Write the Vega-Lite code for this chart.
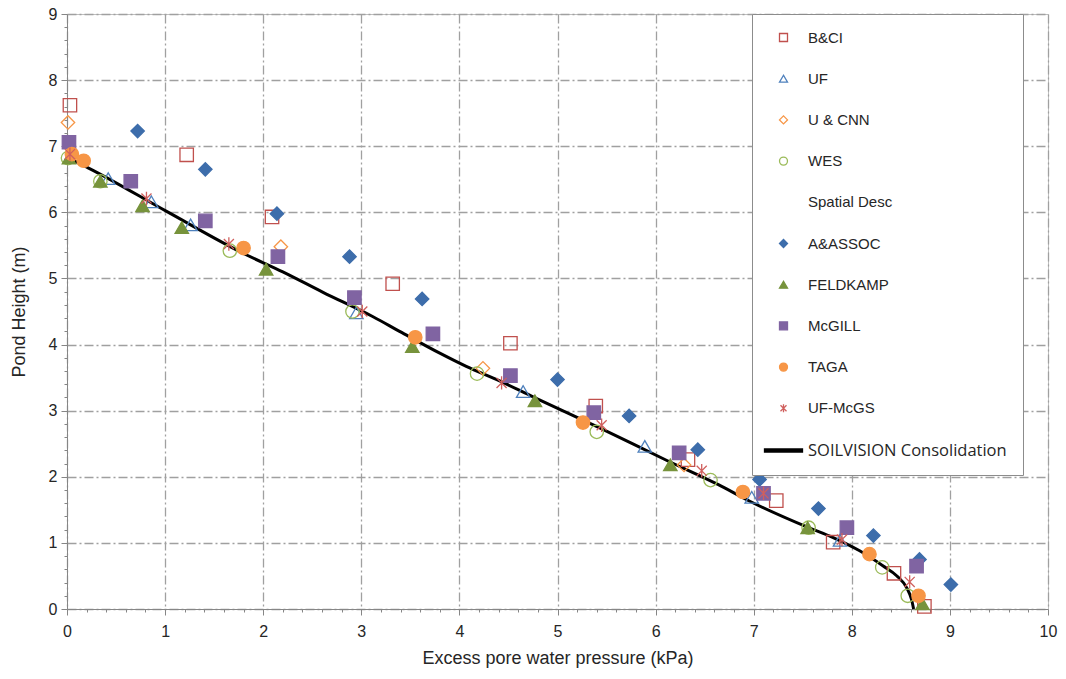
{
  "$schema": "https://vega.github.io/schema/vega-lite/v6.json",
  "width": 981,
  "height": 595,
  "autosize": "none",
  "padding": {"left": 67, "top": 14, "right": 18, "bottom": 70},
  "background": "white",
  "config": {
    "view": {"stroke": "#BFBFBF", "strokeWidth": 1},
    "font": "Liberation Sans",
    "legend": {
      "orient": "none", "legendX": 685, "legendY": 0,
      "padding": 16, "rowPadding": 25.2, "labelFontSize": 15,
      "labelColor": "#262626", "labelOffset": 17, "labelLimit": 400, "symbolOffset": 8,
      "strokeColor": "#8C8C8C", "fillColor": "white", "symbolStrokeWidth": 1.3, "symbolSize": 64
    }
  },
  "datasets": {
    "curve": [
      {"x": 0, "y": 6.83}, {"x": 0.22, "y": 6.67}, {"x": 1.02, "y": 6.01}, {"x": 1.81, "y": 5.37},
      {"x": 2.2, "y": 5.1}, {"x": 2.61, "y": 4.79}, {"x": 3.12, "y": 4.42}, {"x": 3.39, "y": 4.2},
      {"x": 3.8, "y": 3.87}, {"x": 4.07, "y": 3.67}, {"x": 4.41, "y": 3.45}, {"x": 4.75, "y": 3.21},
      {"x": 5.43, "y": 2.74}, {"x": 6.11, "y": 2.25}, {"x": 6.64, "y": 1.88}, {"x": 6.96, "y": 1.63},
      {"x": 7.56, "y": 1.23}, {"x": 7.81, "y": 1.08}, {"x": 8.08, "y": 0.88}, {"x": 8.32, "y": 0.65},
      {"x": 8.46, "y": 0.5}, {"x": 8.56, "y": 0.32}, {"x": 8.61, "y": 0.14}, {"x": 8.63, "y": 0}
    ],
    "obs": [
      {"series": "B&CI", "x": 0.03, "y": 7.62}, {"series": "B&CI", "x": 1.22, "y": 6.87}, {"series": "B&CI", "x": 2.09, "y": 5.93},
      {"series": "B&CI", "x": 3.32, "y": 4.92}, {"series": "B&CI", "x": 4.52, "y": 4.02}, {"series": "B&CI", "x": 5.39, "y": 3.07},
      {"series": "B&CI", "x": 6.33, "y": 2.26}, {"series": "B&CI", "x": 7.23, "y": 1.64}, {"series": "B&CI", "x": 7.81, "y": 1.01},
      {"series": "B&CI", "x": 8.43, "y": 0.54}, {"series": "B&CI", "x": 8.74, "y": 0.04},
      {"series": "UF", "x": 0.42, "y": 6.51}, {"series": "UF", "x": 0.86, "y": 6.16}, {"series": "UF", "x": 1.26, "y": 5.81},
      {"series": "UF", "x": 2.95, "y": 4.48}, {"series": "UF", "x": 4.65, "y": 3.29}, {"series": "UF", "x": 5.89, "y": 2.46},
      {"series": "UF", "x": 6.98, "y": 1.69}, {"series": "UF", "x": 7.88, "y": 1.04},
      {"series": "U & CNN", "x": 0.01, "y": 7.36}, {"series": "U & CNN", "x": 2.18, "y": 5.48}, {"series": "U & CNN", "x": 4.24, "y": 3.64},
      {"series": "U & CNN", "x": 6.29, "y": 2.18},
      {"series": "WES", "x": 0.01, "y": 6.82}, {"series": "WES", "x": 0.34, "y": 6.47}, {"series": "WES", "x": 1.66, "y": 5.42},
      {"series": "WES", "x": 2.91, "y": 4.5}, {"series": "WES", "x": 4.18, "y": 3.56}, {"series": "WES", "x": 5.4, "y": 2.68},
      {"series": "WES", "x": 6.56, "y": 1.95}, {"series": "WES", "x": 7.56, "y": 1.23}, {"series": "WES", "x": 8.31, "y": 0.63},
      {"series": "WES", "x": 8.57, "y": 0.2},
      {"series": "A&ASSOC", "x": 0.72, "y": 7.23}, {"series": "A&ASSOC", "x": 1.41, "y": 6.65}, {"series": "A&ASSOC", "x": 2.14, "y": 5.98},
      {"series": "A&ASSOC", "x": 2.88, "y": 5.33}, {"series": "A&ASSOC", "x": 3.62, "y": 4.69}, {"series": "A&ASSOC", "x": 5.0, "y": 3.47},
      {"series": "A&ASSOC", "x": 5.73, "y": 2.92}, {"series": "A&ASSOC", "x": 6.43, "y": 2.41}, {"series": "A&ASSOC", "x": 7.06, "y": 1.96},
      {"series": "A&ASSOC", "x": 7.66, "y": 1.52}, {"series": "A&ASSOC", "x": 8.22, "y": 1.11}, {"series": "A&ASSOC", "x": 8.69, "y": 0.75},
      {"series": "A&ASSOC", "x": 9.01, "y": 0.37},
      {"series": "FELDKAMP", "x": 0.02, "y": 6.82}, {"series": "FELDKAMP", "x": 0.34, "y": 6.47}, {"series": "FELDKAMP", "x": 0.77, "y": 6.1},
      {"series": "FELDKAMP", "x": 1.17, "y": 5.77}, {"series": "FELDKAMP", "x": 2.03, "y": 5.14}, {"series": "FELDKAMP", "x": 3.52, "y": 3.97},
      {"series": "FELDKAMP", "x": 4.77, "y": 3.15}, {"series": "FELDKAMP", "x": 6.15, "y": 2.18}, {"series": "FELDKAMP", "x": 7.55, "y": 1.23},
      {"series": "FELDKAMP", "x": 8.72, "y": 0.08},
      {"series": "McGILL", "x": 0.02, "y": 7.06}, {"series": "McGILL", "x": 0.65, "y": 6.47}, {"series": "McGILL", "x": 1.41, "y": 5.87},
      {"series": "McGILL", "x": 2.15, "y": 5.33}, {"series": "McGILL", "x": 2.93, "y": 4.71}, {"series": "McGILL", "x": 3.73, "y": 4.16},
      {"series": "McGILL", "x": 4.52, "y": 3.53}, {"series": "McGILL", "x": 5.37, "y": 2.97}, {"series": "McGILL", "x": 6.24, "y": 2.36},
      {"series": "McGILL", "x": 7.1, "y": 1.75}, {"series": "McGILL", "x": 7.95, "y": 1.23}, {"series": "McGILL", "x": 8.66, "y": 0.65},
      {"series": "TAGA", "x": 0.05, "y": 6.88}, {"series": "TAGA", "x": 0.17, "y": 6.78}, {"series": "TAGA", "x": 1.8, "y": 5.46},
      {"series": "TAGA", "x": 3.55, "y": 4.11}, {"series": "TAGA", "x": 5.26, "y": 2.82}, {"series": "TAGA", "x": 6.89, "y": 1.77},
      {"series": "TAGA", "x": 8.18, "y": 0.83}, {"series": "TAGA", "x": 8.68, "y": 0.2},
      {"series": "UF-McGS", "x": 0.03, "y": 6.88}, {"series": "UF-McGS", "x": 0.81, "y": 6.21}, {"series": "UF-McGS", "x": 1.65, "y": 5.52},
      {"series": "UF-McGS", "x": 3.01, "y": 4.5}, {"series": "UF-McGS", "x": 4.43, "y": 3.42}, {"series": "UF-McGS", "x": 5.45, "y": 2.78},
      {"series": "UF-McGS", "x": 6.47, "y": 2.09}, {"series": "UF-McGS", "x": 7.1, "y": 1.75}, {"series": "UF-McGS", "x": 7.9, "y": 1.05},
      {"series": "UF-McGS", "x": 8.59, "y": 0.41}
    ]
  },
  "layer": [
    {
      "data": {"name": "curve"},
      "mark": {"type": "line", "color": "black", "strokeWidth": 3, "interpolate": "monotone"},
      "encoding": {
        "x": {
          "field": "x", "type": "quantitative",
          "scale": {"domain": [0, 10], "nice": false, "zero": false},
          "axis": {
            "title": "Excess pore water pressure (kPa)",
            "tickCount": 200,
            "values": [0,0.2,0.4,0.6,0.8,1,1.2,1.4,1.6,1.8,2,2.2,2.4,2.6,2.8,3,3.2,3.4,3.6,3.8,4,4.2,4.4,4.6,4.8,5,5.2,5.4,5.6,5.8,6,6.2,6.4,6.6,6.8,7,7.2,7.4,7.6,7.8,8,8.2,8.4,8.6,8.8,9,9.2,9.4,9.6,9.8,10],
            "labelExpr": "abs(datum.value - round(datum.value)) < 0.01 ? format(datum.value, 'd') : ''",
            "tickSize": {"condition": {"test": "abs(datum.value - round(datum.value)) < 0.01", "value": 6}, "value": 3},
            "gridOpacity": {"condition": {"test": "abs(datum.value - round(datum.value)) < 0.01", "value": 1}, "value": 0},
            "gridDash": [9, 3, 2, 3], "gridColor": "#A0A0A0", "gridWidth": 1.3,
            "domainColor": "#868686", "tickColor": "#868686",
            "labelFontSize": 16, "labelColor": "#262626", "labelPadding": 8,
            "labelOverlap": false, "labelFlush": false, "labelBound": false,
            "titleFontSize": 18, "titleColor": "#262626", "titleFontWeight": "normal", "titlePadding": 10
          }
        },
        "y": {
          "field": "y", "type": "quantitative",
          "scale": {"domain": [0, 9], "nice": false, "zero": false},
          "axis": {
            "title": "Pond Height (m)",
            "tickCount": 200,
            "values": [0,0.2,0.4,0.6,0.8,1,1.2,1.4,1.6,1.8,2,2.2,2.4,2.6,2.8,3,3.2,3.4,3.6,3.8,4,4.2,4.4,4.6,4.8,5,5.2,5.4,5.6,5.8,6,6.2,6.4,6.6,6.8,7,7.2,7.4,7.6,7.8,8,8.2,8.4,8.6,8.8,9],
            "labelExpr": "abs(datum.value - round(datum.value)) < 0.01 ? format(datum.value, 'd') : ''",
            "tickSize": {"condition": {"test": "abs(datum.value - round(datum.value)) < 0.01", "value": 6}, "value": 3},
            "gridOpacity": {"condition": {"test": "abs(datum.value - round(datum.value)) < 0.01", "value": 1}, "value": 0},
            "gridDash": [9, 3, 2, 3], "gridColor": "#A0A0A0", "gridWidth": 1.3,
            "domainColor": "#868686", "tickColor": "#868686",
            "labelFontSize": 16, "labelColor": "#262626", "labelPadding": 4,
            "labelOverlap": false, "labelFlush": false, "labelBound": false,
            "titleFontSize": 18, "titleColor": "#262626", "titleFontWeight": "normal", "titlePadding": 20
          }
        }
      }
    },
    {
      "data": {"name": "obs"},
      "mark": {"type": "point", "size": 180, "strokeWidth": 1.3, "opacity": 1},
      "encoding": {
        "x": {"field": "x", "type": "quantitative"},
        "y": {"field": "y", "type": "quantitative"},
        "shape": {
          "field": "series", "type": "nominal",
          "scale": {
            "domain": ["B&CI", "UF", "U & CNN", "WES", "Spatial Desc", "A&ASSOC", "FELDKAMP", "McGILL", "TAGA", "UF-McGS", "SOILVISION Consolidation"],
            "range": ["square", "triangle-up", "diamond", "circle", "circle", "diamond", "triangle-up", "square", "circle", "M-0.75,-0.75L0.75,0.75M-0.75,0.75L0.75,-0.75M0,-1L0,1", "M-4.75,-0.4H4.75V0.4H-4.75Z"]
          },
          "legend": {
            "title": null,
            "labelFont": {"expr": "datum.label === 'SOILVISION Consolidation' ? 'Open Sans' : 'Liberation Sans'"},
            "labelFontSize": {"expr": "datum.label === 'SOILVISION Consolidation' ? 16.5 : 15"}
          }
        },
        "stroke": {
          "field": "series", "type": "nominal",
          "scale": {
            "domain": ["B&CI", "UF", "U & CNN", "WES", "Spatial Desc", "A&ASSOC", "FELDKAMP", "McGILL", "TAGA", "UF-McGS", "SOILVISION Consolidation"],
            "range": ["#C0504D", "#4F81BD", "#F79646", "#9BBB59", "transparent", "#3D6DAB", "#77933C", "#8064A2", "#F79646", "#D0605E", "black"]
          },
          "legend": {
            "title": null,
            "labelFont": {"expr": "datum.label === 'SOILVISION Consolidation' ? 'Open Sans' : 'Liberation Sans'"},
            "labelFontSize": {"expr": "datum.label === 'SOILVISION Consolidation' ? 16.5 : 15"}
          }
        },
        "fill": {
          "field": "series", "type": "nominal",
          "scale": {
            "domain": ["B&CI", "UF", "U & CNN", "WES", "Spatial Desc", "A&ASSOC", "FELDKAMP", "McGILL", "TAGA", "UF-McGS", "SOILVISION Consolidation"],
            "range": ["transparent", "transparent", "transparent", "transparent", "transparent", "#3D6DAB", "#77933C", "#8064A2", "#F79646", "transparent", "black"]
          },
          "legend": {
            "title": null,
            "labelFont": {"expr": "datum.label === 'SOILVISION Consolidation' ? 'Open Sans' : 'Liberation Sans'"},
            "labelFontSize": {"expr": "datum.label === 'SOILVISION Consolidation' ? 16.5 : 15"}
          }
        }
      }
    }
  ]
}
